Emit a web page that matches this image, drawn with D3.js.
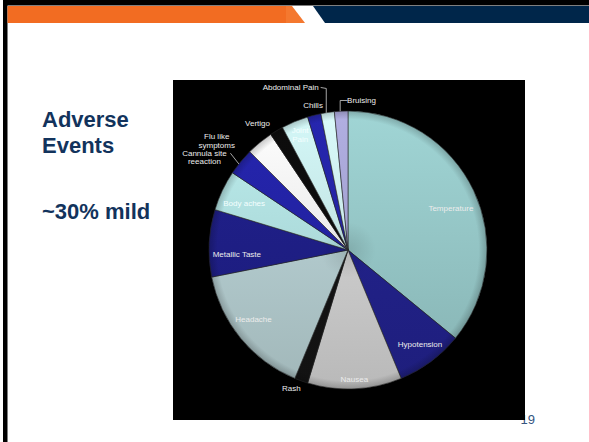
<!DOCTYPE html>
<html><head><meta charset="utf-8">
<script src="https://cdn.jsdelivr.net/npm/d3@7/dist/d3.min.js"></script>
<style>html,body{margin:0;padding:0;background:#fff;}svg{display:block;}</style>
</head><body>
<script>
const categories = ["Temperature","Hypotension","Nausea","Rash","Headache","Metallic Taste","Body aches","Cannula site reeaction","Flu like symptoms","Vertigo","Joint Pain","Chills","Abdominal Pain","Bruising"];
const values = [23,5,7,1,10,5,3,2,2,1,2,1,1,1];
const sliceColors = ["#98caca","#22228c","#d2d2d2","#141414","#b6cfd2","#1f1f88","#b2e2e2","#2323a6","#f2f2f2","#0c0c0c","#c9ebeb","#2424a6","#cfeeee","#a8a6d6"];
const titleLines = ["Adverse","Events"];
const subtitle = "~30% mild";
const pageNumber = "19";

// label layout: [angle offset (deg) from slice mid-angle, radius factor]
const labelLayout = [[3,0.8],[-1,0.85],[0,0.93],[2.7,1.07],[3.4,0.84],[-4.8,0.8],[-1,0.82],[-6.5,1.23],[-10.8,1.23],[-4.6,1.12],[0,0.9],[0.5,1.07],[-11,1.24],[8,1.08]];

const W=589,H=442;
const svg=d3.select("body").append("svg").attr("width",W).attr("height",H);
const defs=svg.append("defs");

// frame
svg.append("rect").attr("x",3).attr("y",0).attr("width",W-3).attr("height",5.5).attr("fill","#000");
svg.append("rect").attr("x",3).attr("y",0).attr("width",4.5).attr("height",H).attr("fill","#000");
// banner
svg.append("rect").attr("x",7.5).attr("y",6).attr("width",279).attr("height",17).attr("fill","#f26c22");
svg.append("polygon").attr("points","286,6 292,6 305,23 286,23").attr("fill","#f4782f");
svg.append("polygon").attr("points","313,6 589,6 589,23 325,23").attr("fill","#00264a");

// left text
const tcol="#12335c";
svg.append("g").selectAll("text").data(titleLines).join("text")
  .attr("x",42).attr("y",(d,i)=>127+i*25.5)
  .attr("font-family","Liberation Sans, Arial, sans-serif").attr("font-weight","bold")
  .attr("font-size",22).attr("fill",tcol).text(d=>d);
svg.append("text").attr("x",42).attr("y",219)
  .attr("font-family","Liberation Sans, Arial, sans-serif").attr("font-weight","bold")
  .attr("font-size",22).attr("fill",tcol).text(subtitle);

// page number (partly hidden by chart box)
svg.append("text").attr("x",535).attr("y",424).attr("text-anchor","end")
  .attr("font-family","Liberation Sans, Arial, sans-serif").attr("font-size",13)
  .attr("fill","#34557f").text(pageNumber);

// chart box
svg.append("rect").attr("x",173).attr("y",80).attr("width",352).attr("height",340).attr("fill","#000");

const cx=348, cy=250, R=139;
const g=svg.append("g").attr("transform",`translate(${cx},${cy})`);
const pie=d3.pie().sort(null).value(d=>d.v).startAngle(0).endAngle(2*Math.PI);
const data=categories.map((c,i)=>({c,v:values[i],col:sliceColors[i],i}));
const arcs=pie(data);
const arc=d3.arc().innerRadius(0).outerRadius(R);

// gradients per slice
arcs.forEach((a,i)=>{
  const c=d3.color(a.data.col);
  const lg=defs.append("linearGradient").attr("id","g"+i)
    .attr("gradientUnits","userSpaceOnUse").attr("x1",0).attr("y1",-R).attr("x2",0).attr("y2",R);
  lg.append("stop").attr("offset","0%").attr("stop-color",c.brighter(0.15).formatHex());
  lg.append("stop").attr("offset","100%").attr("stop-color",c.darker(0.35).formatHex());
});
g.selectAll("path.s").data(arcs).join("path").attr("class","s")
  .attr("d",arc).attr("fill",(d,i)=>`url(#g${i})`)
  .attr("stroke","#2a2a2a").attr("stroke-width",0.6);

// rim shading
const rg=defs.append("radialGradient").attr("id","rim").attr("gradientUnits","userSpaceOnUse")
  .attr("cx",0).attr("cy",0).attr("r",R);
rg.append("stop").attr("offset","0%").attr("stop-color","#000").attr("stop-opacity",0.12);
rg.append("stop").attr("offset","20%").attr("stop-color","#000").attr("stop-opacity",0);
rg.append("stop").attr("offset","94%").attr("stop-color","#000").attr("stop-opacity",0);
rg.append("stop").attr("offset","100%").attr("stop-color","#000").attr("stop-opacity",0.2);
g.append("circle").attr("r",R).attr("fill","url(#rim)");

// labels
const deg=Math.PI/180;
const lpos=(a,i)=>{
  const [off,f]=labelLayout[i];
  const ang=(a.startAngle+a.endAngle)/2+off*deg;
  return [Math.sin(ang)*R*f, -Math.cos(ang)*R*f];
};
const font="Liberation Sans, Arial, sans-serif";
const lab=g.selectAll("g.lab").data(arcs).join("g").attr("class","lab")
  .attr("transform",(d,i)=>{const p=lpos(d,i);return `translate(${p[0]},${p[1]})`;});
lab.each(function(d,i){
  const words = d.data.c==="Joint Pain" ? ["Joint","Pain"]
    : d.data.c==="Flu like symptoms" ? ["Flu like","symptoms"]
    : d.data.c==="Cannula site reeaction" ? ["Cannula site","reeaction"] : [d.data.c];
  const n=words.length;
  d3.select(this).selectAll("text").data(words).join("text")
    .attr("text-anchor","middle").attr("font-family",font).attr("font-size",8)
    .attr("y",(w,k)=>(k-(n-1)/2)*8.2+3)
    .attr("fill", (d.data.c==="Joint Pain"||d.data.c==="Body aches") ? "#f4ffff" : "#ececec")
    .text(w=>w);
});

// leader lines for small outside labels
const leader=(pts)=>g.append("path").attr("d",d3.line()(pts)).attr("fill","none").attr("stroke","#cfcfcf").attr("stroke-width",0.8);
const edge=(i,fr)=>{const a=arcs[i];const ang=a.startAngle+(a.endAngle-a.startAngle)*fr;return [Math.sin(ang)*R,-Math.cos(ang)*R];};
{ // Abdominal Pain
  const e=edge(12,0.4); const p=lpos(arcs[12],12);
  leader([[p[0]+30,p[1]],[e[0],p[1]+1],[e[0],e[1]]]);
}
{ // Bruising
  const e=edge(13,0.5); const p=lpos(arcs[13],13);
  leader([[p[0]-14,p[1]],[e[0]-1,p[1]],[e[0]-1,e[1]]]);
}
{ // Cannula
  const e=edge(7,0.4); const p=lpos(arcs[7],7);
  leader([[p[0]+26,p[1]-4],[e[0],e[1]]]);
}
</script>
</body></html>
